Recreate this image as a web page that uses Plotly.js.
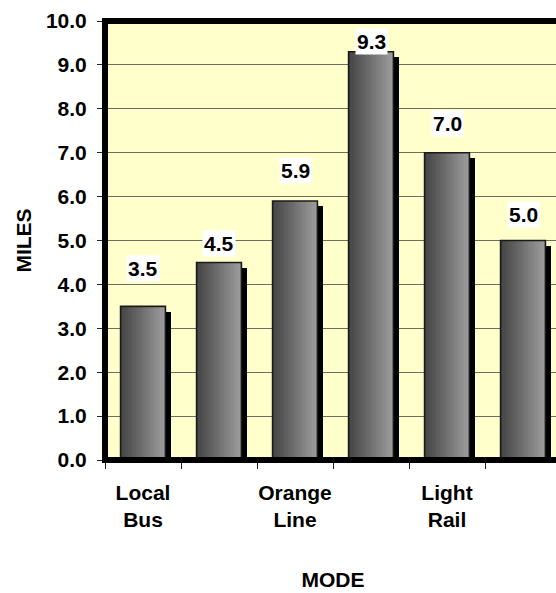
<!DOCTYPE html>
<html>
<head>
<meta charset="utf-8">
<script src="https://cdn.plot.ly/plotly-3.0.1.min.js"></script>
<style>
  html, body { margin: 0; padding: 0; width: 556px; height: 593px; overflow: hidden; background: #fff; }
  #chart { width: 566px; height: 593px; }
</style>
</head>
<body>
<div id="chart"></div>
<script>
// ---- data ----
const categories = ["Local Bus", "Rapid Bus", "Orange Line", "Metro Rail", "Light Rail", "Commuter Rail"];
const milesValues = [3.5, 4.5, 5.9, 9.3, 7.0, 5.0];
const showTickLabel = [true, false, true, false, true, false];
const yTickValues = [0, 1, 2, 3, 4, 5, 6, 7, 8, 9, 10];

// ---- style ----
const FONT = { family: "Arial, 'Liberation Sans', sans-serif", size: 21, color: "#000", weight: "bold" };
const BAR_W = 0.59;
const N_SLICES = 18;
const labelShift = [38, 19, 30, 10, 29, 26]; // px above bar top (label placement)

function lerp(a, b, t) { return Math.round(a + (b - a) * t); }
const c0 = [70, 70, 70], c1 = [155, 155, 155];

const traces = [];
// shadow
traces.push({
  type: "bar", x: categories, y: milesValues, base: -0.12,
  width: BAR_W, offset: -BAR_W / 2 + 0.068,
  marker: { color: "#000", line: { width: 0 } },
  hoverinfo: "skip", showlegend: false
});
// gradient slices (each slice runs to the right edge; later ones on top)
for (let i = 0; i < N_SLICES; i++) {
  const t = i / (N_SLICES - 1);
  const col = `rgb(${lerp(c0[0], c1[0], t)},${lerp(c0[1], c1[1], t)},${lerp(c0[2], c1[2], t)})`;
  const start = -BAR_W / 2 + (BAR_W * i) / N_SLICES;
  traces.push({
    type: "bar", x: categories, y: milesValues,
    width: BAR_W / 2 - start, offset: start,
    marker: { color: col, line: { width: 0 } },
    hoverinfo: "skip", showlegend: false
  });
}
// outline
traces.push({
  type: "bar", x: categories, y: milesValues,
  width: BAR_W, offset: -BAR_W / 2,
  marker: { color: "rgba(0,0,0,0)", line: { color: "#1a1a1a", width: 1.6 } },
  showlegend: false
});

const annotations = categories.map((c, i) => ({
  x: c, y: milesValues[i], xref: "x", yref: "y",
  text: milesValues[i].toFixed(1), showarrow: false,
  yanchor: "middle", yshift: labelShift[i],
  bgcolor: "#fff", borderpad: 1, font: FONT
}));

const layout = {
  width: 566, height: 593,
  margin: { l: 105, r: 5, t: 21, b: 133 },
  paper_bgcolor: "#fff", plot_bgcolor: "#FFFFCC",
  barmode: "overlay", bargap: 0,
  font: FONT,
  showlegend: false,
  xaxis: {
    type: "category", categoryorder: "array", categoryarray: categories,
    tickvals: categories,
    ticktext: categories.map((c, i) => showTickLabel[i] ? c.replace(" ", "<br>") : ""),
    tickangle: 0,
    tickson: "boundaries", ticks: "outside", ticklen: 8, tickwidth: 1, tickcolor: "#222",
    showgrid: false, showline: false, zeroline: false,
    tickfont: FONT, ticklabelstandoff: 18,
    title: { text: "MODE", font: FONT, standoff: 42 },
    fixedrange: true
  },
  yaxis: {
    range: [0, 10], tickvals: yTickValues, tickformat: ".1f",
    ticks: "outside", ticklen: 7, tickwidth: 1, tickcolor: "#222",
    showgrid: true, gridcolor: "#6e6e60", gridwidth: 1,
    showline: false, zeroline: false,
    tickfont: FONT, ticklabelstandoff: 6,
    title: { text: "MILES", font: FONT, standoff: 8 },
    fixedrange: true
  },
  shapes: [{
    type: "rect", xref: "paper", yref: "paper", x0: 0, x1: 1, y0: 0, y1: 1,
    line: { color: "#000", width: 6 }, fillcolor: "rgba(0,0,0,0)", layer: "above"
  }],
  annotations: annotations
};

Plotly.newPlot("chart", traces, layout, { displayModeBar: false, staticPlot: true });
</script>
</body>
</html>
